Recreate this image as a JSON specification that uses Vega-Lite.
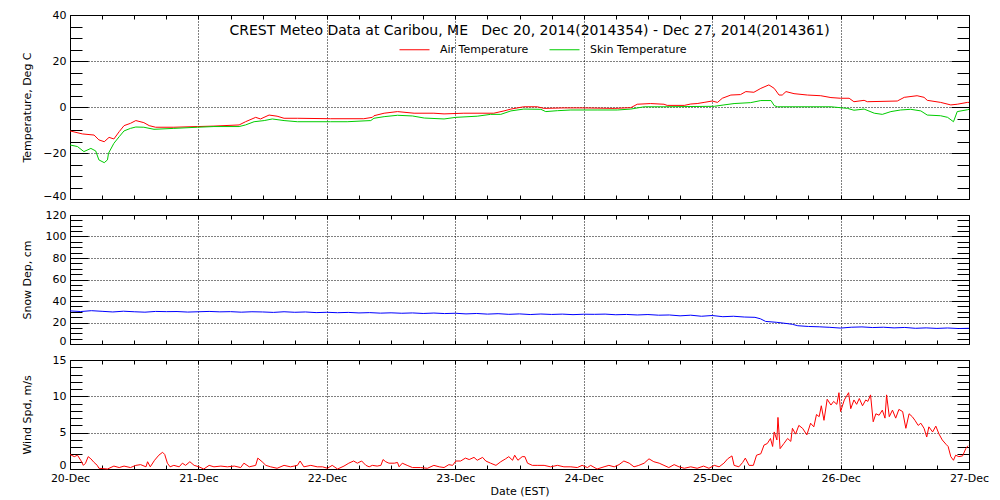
{
  "$schema": "https://vega.github.io/schema/vega-lite/v6.json",
  "background": "white",
  "padding": {"left": 20, "top": 8, "right": 5, "bottom": 0},
  "spacing": 16,
  "bounds": "flush",
  "config": {
    "view": {"stroke": "black", "strokeWidth": 1, "fill": "white"},
    "axis": {
      "domain": false,
      "labelFont": "DejaVu Sans", "labelFontSize": 11, "labelColor": "black",
      "titleFont": "DejaVu Sans", "titleFontSize": 11, "titleFontWeight": "normal", "titleColor": "black",
      "tickColor": "black", "tickWidth": 1,
      "gridColor": "black", "gridDash": [1, 2], "gridOpacity": 1, "gridWidth": 1,
      "labelFlush": false, "labelOverlap": false
    }
  },
  "datasets": {
    "temp": [
      {"hour":0.0,"series":"Air Temperature","temp":-10.4},{"hour":2.3,"series":"Air Temperature","temp":-11.7},{"hour":4.5,"series":"Air Temperature","temp":-12.2},{"hour":5.4,"series":"Air Temperature","temp":-14.3},{"hour":6.4,"series":"Air Temperature","temp":-15.1},{"hour":7.3,"series":"Air Temperature","temp":-13.2},{"hour":8.2,"series":"Air Temperature","temp":-13.9},{"hour":9.2,"series":"Air Temperature","temp":-10.7},{"hour":10.1,"series":"Air Temperature","temp":-8.1},{"hour":11.3,"series":"Air Temperature","temp":-7.1},{"hour":12.3,"series":"Air Temperature","temp":-5.9},{"hour":13.8,"series":"Air Temperature","temp":-6.8},{"hour":14.8,"series":"Air Temperature","temp":-8.1},{"hour":16.0,"series":"Air Temperature","temp":-8.8},{"hour":19.4,"series":"Air Temperature","temp":-8.8},{"hour":23.8,"series":"Air Temperature","temp":-8.5},{"hour":26.9,"series":"Air Temperature","temp":-8.3},{"hour":31.6,"series":"Air Temperature","temp":-7.8},{"hour":32.8,"series":"Air Temperature","temp":-6.4},{"hour":34.7,"series":"Air Temperature","temp":-4.5},{"hour":35.6,"series":"Air Temperature","temp":-5.2},{"hour":37.2,"series":"Air Temperature","temp":-3.5},{"hour":38.7,"series":"Air Temperature","temp":-4.0},{"hour":40.0,"series":"Air Temperature","temp":-4.9},{"hour":42.5,"series":"Air Temperature","temp":-4.9},{"hour":48.7,"series":"Air Temperature","temp":-5.1},{"hour":54.9,"series":"Air Temperature","temp":-5.1},{"hour":56.5,"series":"Air Temperature","temp":-4.5},{"hour":56.8,"series":"Air Temperature","temp":-3.8},{"hour":58.7,"series":"Air Temperature","temp":-2.7},{"hour":61.2,"series":"Air Temperature","temp":-2.0},{"hour":64.3,"series":"Air Temperature","temp":-2.7},{"hour":68.0,"series":"Air Temperature","temp":-2.7},{"hour":69.9,"series":"Air Temperature","temp":-3.0},{"hour":73.6,"series":"Air Temperature","temp":-2.7},{"hour":79.2,"series":"Air Temperature","temp":-2.7},{"hour":81.1,"series":"Air Temperature","temp":-1.7},{"hour":82.4,"series":"Air Temperature","temp":-0.9},{"hour":84.8,"series":"Air Temperature","temp":0.1},{"hour":87.3,"series":"Air Temperature","temp":0.1},{"hour":88.6,"series":"Air Temperature","temp":-0.6},{"hour":92.3,"series":"Air Temperature","temp":-0.4},{"hour":96.1,"series":"Air Temperature","temp":-0.4},{"hour":101.7,"series":"Air Temperature","temp":-0.6},{"hour":104.8,"series":"Air Temperature","temp":-0.3},{"hour":106.0,"series":"Air Temperature","temp":1.2},{"hour":108.5,"series":"Air Temperature","temp":1.5},{"hour":111.0,"series":"Air Temperature","temp":1.2},{"hour":111.6,"series":"Air Temperature","temp":0.7},{"hour":114.8,"series":"Air Temperature","temp":0.7},{"hour":116.0,"series":"Air Temperature","temp":1.3},{"hour":117.2,"series":"Air Temperature","temp":1.5},{"hour":118.5,"series":"Air Temperature","temp":2.0},{"hour":120.0,"series":"Air Temperature","temp":2.6},{"hour":121.0,"series":"Air Temperature","temp":2.0},{"hour":121.9,"series":"Air Temperature","temp":3.8},{"hour":123.5,"series":"Air Temperature","temp":5.2},{"hour":125.3,"series":"Air Temperature","temp":5.4},{"hour":126.3,"series":"Air Temperature","temp":6.7},{"hour":127.8,"series":"Air Temperature","temp":6.4},{"hour":129.1,"series":"Air Temperature","temp":8.1},{"hour":130.6,"series":"Air Temperature","temp":9.6},{"hour":131.6,"series":"Air Temperature","temp":8.1},{"hour":132.5,"series":"Air Temperature","temp":5.2},{"hour":133.1,"series":"Air Temperature","temp":5.2},{"hour":133.8,"series":"Air Temperature","temp":6.7},{"hour":135.3,"series":"Air Temperature","temp":5.8},{"hour":137.8,"series":"Air Temperature","temp":5.2},{"hour":140.3,"series":"Air Temperature","temp":4.9},{"hour":142.2,"series":"Air Temperature","temp":4.1},{"hour":144.0,"series":"Air Temperature","temp":3.8},{"hour":145.6,"series":"Air Temperature","temp":3.8},{"hour":146.5,"series":"Air Temperature","temp":2.3},{"hour":148.4,"series":"Air Temperature","temp":2.9},{"hour":149.0,"series":"Air Temperature","temp":2.3},{"hour":154.6,"series":"Air Temperature","temp":2.6},{"hour":155.9,"series":"Air Temperature","temp":4.2},{"hour":158.3,"series":"Air Temperature","temp":4.9},{"hour":159.6,"series":"Air Temperature","temp":4.2},{"hour":160.2,"series":"Air Temperature","temp":2.9},{"hour":162.7,"series":"Air Temperature","temp":2.0},{"hour":164.6,"series":"Air Temperature","temp":0.9},{"hour":165.8,"series":"Air Temperature","temp":1.2},{"hour":167.7,"series":"Air Temperature","temp":2.0},{"hour":168.0,"series":"Air Temperature","temp":2.0},
      {"hour":0.0,"series":"Skin Temperature","temp":-16.5},{"hour":1.4,"series":"Skin Temperature","temp":-17.2},{"hour":2.6,"series":"Skin Temperature","temp":-19.4},{"hour":3.9,"series":"Skin Temperature","temp":-18.0},{"hour":4.8,"series":"Skin Temperature","temp":-19.1},{"hour":5.4,"series":"Skin Temperature","temp":-23.0},{"hour":6.4,"series":"Skin Temperature","temp":-24.2},{"hour":7.0,"series":"Skin Temperature","temp":-23.0},{"hour":7.2,"series":"Skin Temperature","temp":-20.1},{"hour":8.2,"series":"Skin Temperature","temp":-15.8},{"hour":9.2,"series":"Skin Temperature","temp":-12.9},{"hour":10.1,"series":"Skin Temperature","temp":-10.4},{"hour":11.3,"series":"Skin Temperature","temp":-9.3},{"hour":12.3,"series":"Skin Temperature","temp":-8.7},{"hour":13.8,"series":"Skin Temperature","temp":-8.8},{"hour":15.7,"series":"Skin Temperature","temp":-9.7},{"hour":19.4,"series":"Skin Temperature","temp":-9.3},{"hour":23.8,"series":"Skin Temperature","temp":-8.8},{"hour":26.9,"series":"Skin Temperature","temp":-8.5},{"hour":31.6,"series":"Skin Temperature","temp":-8.5},{"hour":32.8,"series":"Skin Temperature","temp":-7.8},{"hour":34.4,"series":"Skin Temperature","temp":-6.4},{"hour":36.3,"series":"Skin Temperature","temp":-5.9},{"hour":37.8,"series":"Skin Temperature","temp":-5.2},{"hour":40.0,"series":"Skin Temperature","temp":-5.9},{"hour":42.5,"series":"Skin Temperature","temp":-6.4},{"hour":48.7,"series":"Skin Temperature","temp":-6.4},{"hour":51.8,"series":"Skin Temperature","temp":-6.4},{"hour":56.2,"series":"Skin Temperature","temp":-5.9},{"hour":56.8,"series":"Skin Temperature","temp":-4.9},{"hour":58.7,"series":"Skin Temperature","temp":-4.2},{"hour":61.2,"series":"Skin Temperature","temp":-3.6},{"hour":64.0,"series":"Skin Temperature","temp":-3.9},{"hour":66.2,"series":"Skin Temperature","temp":-4.8},{"hour":69.9,"series":"Skin Temperature","temp":-5.2},{"hour":72.1,"series":"Skin Temperature","temp":-4.5},{"hour":76.1,"series":"Skin Temperature","temp":-4.0},{"hour":78.6,"series":"Skin Temperature","temp":-3.2},{"hour":80.5,"series":"Skin Temperature","temp":-3.2},{"hour":82.4,"series":"Skin Temperature","temp":-1.7},{"hour":84.8,"series":"Skin Temperature","temp":-0.9},{"hour":88.0,"series":"Skin Temperature","temp":-1.0},{"hour":88.9,"series":"Skin Temperature","temp":-2.0},{"hour":91.1,"series":"Skin Temperature","temp":-1.6},{"hour":93.6,"series":"Skin Temperature","temp":-1.3},{"hour":98.5,"series":"Skin Temperature","temp":-1.3},{"hour":102.3,"series":"Skin Temperature","temp":-1.3},{"hour":104.8,"series":"Skin Temperature","temp":-0.9},{"hour":107.3,"series":"Skin Temperature","temp":0.1},{"hour":111.0,"series":"Skin Temperature","temp":0.1},{"hour":120.4,"series":"Skin Temperature","temp":0.3},{"hour":122.2,"series":"Skin Temperature","temp":0.9},{"hour":124.1,"series":"Skin Temperature","temp":1.5},{"hour":127.2,"series":"Skin Temperature","temp":1.9},{"hour":129.1,"series":"Skin Temperature","temp":2.8},{"hour":131.0,"series":"Skin Temperature","temp":2.8},{"hour":131.6,"series":"Skin Temperature","temp":0.6},{"hour":132.2,"series":"Skin Temperature","temp":0.1},{"hour":142.2,"series":"Skin Temperature","temp":0.1},{"hour":145.3,"series":"Skin Temperature","temp":-0.6},{"hour":146.5,"series":"Skin Temperature","temp":-1.4},{"hour":148.4,"series":"Skin Temperature","temp":-0.9},{"hour":150.3,"series":"Skin Temperature","temp":-2.7},{"hour":151.8,"series":"Skin Temperature","temp":-3.2},{"hour":153.4,"series":"Skin Temperature","temp":-2.0},{"hour":155.2,"series":"Skin Temperature","temp":-1.3},{"hour":157.1,"series":"Skin Temperature","temp":-1.0},{"hour":159.0,"series":"Skin Temperature","temp":-1.7},{"hour":160.2,"series":"Skin Temperature","temp":-3.5},{"hour":162.7,"series":"Skin Temperature","temp":-3.8},{"hour":164.0,"series":"Skin Temperature","temp":-4.5},{"hour":165.1,"series":"Skin Temperature","temp":-6.4},{"hour":165.8,"series":"Skin Temperature","temp":-2.0},{"hour":167.7,"series":"Skin Temperature","temp":-1.2},{"hour":168.0,"series":"Skin Temperature","temp":-1.0}
    ],
    "snow": [
      {"hour":0,"depth":30.8},{"hour":2,"depth":30.2},{"hour":4,"depth":31.0},{"hour":6,"depth":30.4},{"hour":8,"depth":29.8},{"hour":10,"depth":30.5},{"hour":12,"depth":30.0},{"hour":14,"depth":29.6},{"hour":16,"depth":30.3},{"hour":18,"depth":30.1},{"hour":20,"depth":30.2},{"hour":22,"depth":29.7},{"hour":24,"depth":30.0},{"hour":26,"depth":30.3},{"hour":28,"depth":29.9},{"hour":30,"depth":30.1},{"hour":32,"depth":29.6},{"hour":34,"depth":30.0},{"hour":36,"depth":29.8},{"hour":38,"depth":29.4},{"hour":40,"depth":30.0},{"hour":42,"depth":29.5},{"hour":44,"depth":29.8},{"hour":46,"depth":29.2},{"hour":48,"depth":29.5},{"hour":50,"depth":29.1},{"hour":52,"depth":29.4},{"hour":54,"depth":28.9},{"hour":56,"depth":29.2},{"hour":58,"depth":28.7},{"hour":60,"depth":29.0},{"hour":62,"depth":28.6},{"hour":64,"depth":28.9},{"hour":66,"depth":28.4},{"hour":68,"depth":28.8},{"hour":70,"depth":28.3},{"hour":72,"depth":28.6},{"hour":74,"depth":28.0},{"hour":76,"depth":28.4},{"hour":78,"depth":27.8},{"hour":80,"depth":28.2},{"hour":82,"depth":27.6},{"hour":84,"depth":28.0},{"hour":86,"depth":27.4},{"hour":88,"depth":27.9},{"hour":90,"depth":27.5},{"hour":92,"depth":27.8},{"hour":94,"depth":27.3},{"hour":96,"depth":27.7},{"hour":98,"depth":27.6},{"hour":100,"depth":27.8},{"hour":102,"depth":27.2},{"hour":104,"depth":27.5},{"hour":106,"depth":27.0},{"hour":108,"depth":27.4},{"hour":110,"depth":26.8},{"hour":112,"depth":27.0},{"hour":114,"depth":26.2},{"hour":116,"depth":26.8},{"hour":118,"depth":25.8},{"hour":120,"depth":26.5},{"hour":122,"depth":25.4},{"hour":124,"depth":25.8},{"hour":126,"depth":25.1},{"hour":128,"depth":24.8},{"hour":129,"depth":23.5},{"hour":130,"depth":21.0},{"hour":131,"depth":20.6},{"hour":132,"depth":20.2},{"hour":134,"depth":19.0},{"hour":135,"depth":18.3},{"hour":136,"depth":17.0},{"hour":138,"depth":16.3},{"hour":140,"depth":16.0},{"hour":142,"depth":15.5},{"hour":144,"depth":14.8},{"hour":146,"depth":15.6},{"hour":148,"depth":15.9},{"hour":150,"depth":15.3},{"hour":152,"depth":15.6},{"hour":154,"depth":15.0},{"hour":156,"depth":15.4},{"hour":158,"depth":14.6},{"hour":160,"depth":15.0},{"hour":162,"depth":14.5},{"hour":164,"depth":14.9},{"hour":166,"depth":14.4},{"hour":168,"depth":14.6}
    ],
    "wind": [
      {"hour":0.0,"speed":2.0},{"hour":0.8,"speed":1.7},{"hour":1.4,"speed":1.9},{"hour":2.0,"speed":1.2},{"hour":2.5,"speed":0.5},{"hour":2.9,"speed":0.8},{"hour":3.4,"speed":1.7},{"hour":3.9,"speed":1.4},{"hour":4.5,"speed":0.9},{"hour":5.1,"speed":0.5},{"hour":5.4,"speed":0.1},{"hour":7.0,"speed":0.0},{"hour":8.2,"speed":0.4},{"hour":9.2,"speed":0.2},{"hour":10.1,"speed":0.4},{"hour":11.3,"speed":0.2},{"hour":12.3,"speed":0.5},{"hour":13.2,"speed":0.6},{"hour":14.2,"speed":0.3},{"hour":14.5,"speed":1.0},{"hour":15.0,"speed":0.3},{"hour":15.8,"speed":1.2},{"hour":16.6,"speed":1.9},{"hour":17.3,"speed":2.3},{"hour":17.7,"speed":2.0},{"hour":18.2,"speed":0.8},{"hour":18.7,"speed":0.3},{"hour":19.4,"speed":0.5},{"hour":20.4,"speed":0.3},{"hour":21.0,"speed":0.8},{"hour":21.6,"speed":0.5},{"hour":22.4,"speed":1.0},{"hour":23.2,"speed":0.5},{"hour":24.1,"speed":0.3},{"hour":25.0,"speed":0.0},{"hour":26.0,"speed":0.5},{"hour":26.9,"speed":0.3},{"hour":28.2,"speed":0.4},{"hour":29.4,"speed":0.3},{"hour":30.7,"speed":0.4},{"hour":31.9,"speed":0.2},{"hour":32.5,"speed":0.8},{"hour":33.5,"speed":0.3},{"hour":34.7,"speed":0.5},{"hour":35.1,"speed":1.5},{"hour":35.9,"speed":1.0},{"hour":36.6,"speed":0.5},{"hour":37.5,"speed":0.3},{"hour":38.7,"speed":0.1},{"hour":40.0,"speed":0.5},{"hour":41.2,"speed":0.3},{"hour":42.5,"speed":0.5},{"hour":43.0,"speed":1.1},{"hour":43.7,"speed":0.3},{"hour":45.0,"speed":0.5},{"hour":46.2,"speed":0.3},{"hour":47.2,"speed":0.3},{"hour":48.1,"speed":0.1},{"hour":49.0,"speed":0.5},{"hour":50.0,"speed":0.0},{"hour":51.2,"speed":0.4},{"hour":52.1,"speed":0.8},{"hour":53.0,"speed":1.1},{"hour":53.7,"speed":0.8},{"hour":54.5,"speed":1.1},{"hour":55.3,"speed":0.5},{"hour":55.9,"speed":0.3},{"hour":56.5,"speed":0.5},{"hour":57.4,"speed":0.4},{"hour":58.1,"speed":0.5},{"hour":58.5,"speed":1.3},{"hour":59.0,"speed":1.0},{"hour":59.6,"speed":0.8},{"hour":60.6,"speed":0.8},{"hour":61.2,"speed":0.9},{"hour":61.5,"speed":0.3},{"hour":62.1,"speed":0.8},{"hour":63.0,"speed":0.5},{"hour":64.0,"speed":0.2},{"hour":65.5,"speed":0.2},{"hour":66.8,"speed":0.1},{"hour":68.0,"speed":0.5},{"hour":69.0,"speed":0.3},{"hour":69.9,"speed":0.2},{"hour":70.8,"speed":0.6},{"hour":71.5,"speed":0.5},{"hour":72.1,"speed":1.1},{"hour":73.0,"speed":1.1},{"hour":73.9,"speed":1.5},{"hour":74.6,"speed":1.3},{"hour":75.5,"speed":1.6},{"hour":76.1,"speed":1.2},{"hour":77.1,"speed":1.6},{"hour":77.7,"speed":1.1},{"hour":78.6,"speed":0.8},{"hour":79.6,"speed":0.5},{"hour":80.5,"speed":1.0},{"hour":81.4,"speed":1.4},{"hour":82.0,"speed":1.7},{"hour":82.7,"speed":1.2},{"hour":83.1,"speed":1.9},{"hour":83.7,"speed":1.2},{"hour":84.5,"speed":1.7},{"hour":85.0,"speed":1.7},{"hour":85.5,"speed":0.8},{"hour":86.4,"speed":0.5},{"hour":87.3,"speed":0.5},{"hour":88.6,"speed":0.5},{"hour":89.8,"speed":0.3},{"hour":91.1,"speed":0.5},{"hour":92.3,"speed":0.3},{"hour":93.6,"speed":0.3},{"hour":94.8,"speed":0.2},{"hour":95.7,"speed":0.5},{"hour":96.7,"speed":0.2},{"hour":97.3,"speed":0.5},{"hour":98.5,"speed":0.0},{"hour":99.8,"speed":0.3},{"hour":100.7,"speed":0.5},{"hour":101.7,"speed":0.3},{"hour":102.6,"speed":0.6},{"hour":103.5,"speed":1.1},{"hour":104.5,"speed":0.8},{"hour":105.4,"speed":0.3},{"hour":106.3,"speed":0.5},{"hour":107.3,"speed":0.8},{"hour":108.2,"speed":1.4},{"hour":109.1,"speed":1.0},{"hour":110.1,"speed":0.8},{"hour":111.0,"speed":0.5},{"hour":111.9,"speed":0.2},{"hour":112.9,"speed":0.6},{"hour":113.8,"speed":0.3},{"hour":114.8,"speed":0.1},{"hour":116.0,"speed":0.3},{"hour":117.2,"speed":0.1},{"hour":118.4,"speed":0.4},{"hour":119.4,"speed":0.1},{"hour":120.4,"speed":0.5},{"hour":121.3,"speed":0.3},{"hour":122.2,"speed":0.8},{"hour":122.9,"speed":1.4},{"hour":123.7,"speed":1.8},{"hour":124.1,"speed":0.5},{"hour":125.0,"speed":0.3},{"hour":125.7,"speed":0.9},{"hour":126.2,"speed":1.5},{"hour":126.9,"speed":0.5},{"hour":127.7,"speed":0.5},{"hour":128.3,"speed":1.9},{"hour":129.1,"speed":2.1},{"hour":129.7,"speed":3.3},{"hour":130.3,"speed":3.5},{"hour":130.9,"speed":4.2},{"hour":131.3,"speed":3.1},{"hour":131.6,"speed":5.1},{"hour":132.1,"speed":4.0},{"hour":132.3,"speed":7.1},{"hour":132.7,"speed":2.8},{"hour":133.4,"speed":3.5},{"hour":134.1,"speed":4.2},{"hour":134.7,"speed":3.8},{"hour":135.0,"speed":5.6},{"hour":135.6,"speed":4.8},{"hour":136.2,"speed":6.0},{"hour":136.9,"speed":5.6},{"hour":137.7,"speed":4.7},{"hour":138.4,"speed":6.3},{"hour":139.0,"speed":5.8},{"hour":139.5,"speed":7.5},{"hour":140.0,"speed":7.2},{"hour":140.4,"speed":8.7},{"hour":140.9,"speed":6.7},{"hour":141.5,"speed":9.6},{"hour":142.2,"speed":8.8},{"hour":142.7,"speed":9.3},{"hour":143.3,"speed":8.9},{"hour":143.7,"speed":10.5},{"hour":144.0,"speed":7.9},{"hour":144.7,"speed":9.5},{"hour":145.5,"speed":10.5},{"hour":145.9,"speed":8.3},{"hour":146.5,"speed":9.5},{"hour":147.0,"speed":8.9},{"hour":147.5,"speed":9.7},{"hour":148.1,"speed":8.7},{"hour":148.7,"speed":9.5},{"hour":149.1,"speed":9.3},{"hour":149.6,"speed":10.2},{"hour":150.1,"speed":6.5},{"hour":150.6,"speed":7.6},{"hour":151.2,"speed":7.4},{"hour":151.8,"speed":8.1},{"hour":152.3,"speed":7.0},{"hour":152.6,"speed":10.2},{"hour":153.1,"speed":7.2},{"hour":153.7,"speed":8.1},{"hour":154.3,"speed":7.0},{"hour":154.9,"speed":8.2},{"hour":155.6,"speed":7.9},{"hour":156.2,"speed":5.6},{"hour":156.8,"speed":7.6},{"hour":157.4,"speed":7.2},{"hour":157.9,"speed":6.7},{"hour":158.5,"speed":6.0},{"hour":159.0,"speed":6.3},{"hour":159.6,"speed":5.6},{"hour":160.1,"speed":4.4},{"hour":160.5,"speed":5.8},{"hour":161.2,"speed":5.1},{"hour":161.8,"speed":5.9},{"hour":162.4,"speed":4.8},{"hour":163.0,"speed":4.0},{"hour":163.7,"speed":3.4},{"hour":164.1,"speed":3.1},{"hour":164.6,"speed":1.7},{"hour":165.1,"speed":1.2},{"hour":165.5,"speed":1.9},{"hour":166.1,"speed":1.7},{"hour":166.8,"speed":1.8},{"hour":167.4,"speed":2.8},{"hour":167.8,"speed":3.2}
    ]
  },
  "vconcat": [
    {
      "width": 899, "height": 184,
      "title": {"text": "CREST Meteo Data at Caribou, ME\u00a0\u00a0\u00a0Dec 20, 2014(2014354) - Dec 27, 2014(2014361)", "font": "DejaVu Sans", "fontSize": 14, "fontWeight": "normal", "color": "black", "anchor": "middle", "frame": "group", "offset": -20, "baseline": "alphabetic", "dx": 10, "dy": 20},
      "data": {"name": "temp"},
      "resolve": {"axis": {"x": "independent", "y": "independent"}},
      "layer": [
        {
          "mark": {"type": "line", "strokeWidth": 1},
          "encoding": {
            "x": {"field": "hour", "type": "quantitative", "scale": {"domain": [0, 168], "nice": false, "zero": false},
                  "axis": {"orient": "bottom", "values": [24, 48, 72, 96, 120, 144], "labels": false, "ticks": false, "grid": true, "title": null}},
            "y": {"field": "temp", "type": "quantitative", "scale": {"domain": [-40, 40], "nice": false, "zero": false},
                  "axis": {"orient": "left", "values": [-40, -20, 0, 20, 40], "ticks": false, "grid": true, "labelPadding": 4, "labelOffset": {"condition": {"test": "datum.value === -40", "value": -3}, "value": 0}, "title": "Temperature, Deg C", "titleX": -38, "titleBaseline": "bottom"}},
            "color": {"field": "series", "type": "nominal",
                      "scale": {"domain": ["Air Temperature", "Skin Temperature"], "range": ["#ff0000", "#00cc00"]},
                      "legend": {"orient": "none", "legendX": 329, "legendY": 19, "direction": "horizontal", "title": null, "symbolType": "stroke", "symbolSize": 900, "symbolStrokeWidth": 1, "labelFont": "DejaVu Sans", "labelFontSize": 11, "labelColor": "black", "labelOffset": 10, "columnPadding": 18}}
          }
        },
        {
          "mark": {"type": "point", "opacity": 0},
          "encoding": {
            "x": {"field": "hour", "type": "quantitative", "scale": {"domain": [0, 168], "nice": false, "zero": false},
                  "axis": {"orient": "bottom", "values": [0,6,12,18,24,30,36,42,48,54,60,66,72,78,84,90,96,102,108,114,120,126,132,138,144,150,156,162,168], "labels": false, "grid": false, "tickSize": -4, "title": null}},
            "y": {"field": "temp", "type": "quantitative", "scale": {"domain": [-40, 40], "nice": false, "zero": false},
                  "axis": {"orient": "left", "values": [-40,-35,-30,-25,-20,-15,-10,-5,0,5,10,15,20,25,30,35,40], "labels": false, "grid": false, "title": null,
                           "tickSize": {"condition": {"test": "datum.value % 20 === 0", "value": -18}, "value": -12}}}
          }
        },
        {
          "mark": {"type": "point", "opacity": 0},
          "encoding": {
            "x": {"field": "hour", "type": "quantitative", "scale": {"domain": [0, 168], "nice": false, "zero": false},
                  "axis": {"orient": "top", "values": [0,6,12,18,24,30,36,42,48,54,60,66,72,78,84,90,96,102,108,114,120,126,132,138,144,150,156,162,168], "labels": false, "grid": false, "tickSize": -4, "title": null}},
            "y": {"field": "temp", "type": "quantitative", "scale": {"domain": [-40, 40], "nice": false, "zero": false},
                  "axis": {"orient": "right", "values": [-40,-35,-30,-25,-20,-15,-10,-5,0,5,10,15,20,25,30,35,40], "labels": false, "grid": false, "title": null,
                           "tickSize": {"condition": {"test": "datum.value % 20 === 0", "value": -18}, "value": -12}}}
          }
        }
      ]
    },
    {
      "width": 899, "height": 129,
      "data": {"name": "snow"},
      "resolve": {"axis": {"x": "independent", "y": "independent"}},
      "layer": [
        {
          "mark": {"type": "line", "strokeWidth": 1, "color": "#0000ff"},
          "encoding": {
            "x": {"field": "hour", "type": "quantitative", "scale": {"domain": [0, 168], "nice": false, "zero": false},
                  "axis": {"orient": "bottom", "values": [24, 48, 72, 96, 120, 144], "labels": false, "ticks": false, "grid": true, "title": null}},
            "y": {"field": "depth", "type": "quantitative", "scale": {"domain": [0, 120], "nice": false, "zero": false},
                  "axis": {"orient": "left", "values": [0, 20, 40, 60, 80, 100, 120], "ticks": false, "grid": true, "labelPadding": 4, "labelOffset": {"condition": {"test": "datum.value === 0", "value": -3}, "value": 0}, "title": "Snow Dep, cm", "titleX": -38, "titleBaseline": "bottom"}}
          }
        },
        {
          "mark": {"type": "point", "opacity": 0},
          "encoding": {
            "x": {"field": "hour", "type": "quantitative", "scale": {"domain": [0, 168], "nice": false, "zero": false},
                  "axis": {"orient": "bottom", "values": [0,6,12,18,24,30,36,42,48,54,60,66,72,78,84,90,96,102,108,114,120,126,132,138,144,150,156,162,168], "labels": false, "grid": false, "tickSize": -4, "title": null}},
            "y": {"field": "depth", "type": "quantitative", "scale": {"domain": [0, 120], "nice": false, "zero": false},
                  "axis": {"orient": "left", "values": [0,5,10,15,20,25,30,35,40,45,50,55,60,65,70,75,80,85,90,95,100,105,110,115,120], "labels": false, "grid": false, "title": null,
                           "tickSize": {"condition": {"test": "datum.value % 20 === 0", "value": -18}, "value": -12}}}
          }
        },
        {
          "mark": {"type": "point", "opacity": 0},
          "encoding": {
            "x": {"field": "hour", "type": "quantitative", "scale": {"domain": [0, 168], "nice": false, "zero": false},
                  "axis": {"orient": "top", "values": [0,6,12,18,24,30,36,42,48,54,60,66,72,78,84,90,96,102,108,114,120,126,132,138,144,150,156,162,168], "labels": false, "grid": false, "tickSize": -4, "title": null}},
            "y": {"field": "depth", "type": "quantitative", "scale": {"domain": [0, 120], "nice": false, "zero": false},
                  "axis": {"orient": "right", "values": [0,5,10,15,20,25,30,35,40,45,50,55,60,65,70,75,80,85,90,95,100,105,110,115,120], "labels": false, "grid": false, "title": null,
                           "tickSize": {"condition": {"test": "datum.value % 20 === 0", "value": -18}, "value": -12}}}
          }
        }
      ]
    },
    {
      "width": 899, "height": 109,
      "data": {"name": "wind"},
      "resolve": {"axis": {"x": "independent", "y": "independent"}},
      "layer": [
        {
          "mark": {"type": "line", "strokeWidth": 1, "color": "#ff0000"},
          "encoding": {
            "x": {"field": "hour", "type": "quantitative", "scale": {"domain": [0, 168], "nice": false, "zero": false},
                  "axis": {"orient": "bottom", "values": [0, 24, 48, 72, 96, 120, 144, 168], "labelExpr": "(20 + round(datum.value / 24)) + '-Dec'", "labelPadding": 3, "ticks": false, "grid": true, "title": "Date (EST)", "titlePadding": 2}},
            "y": {"field": "speed", "type": "quantitative", "scale": {"domain": [0, 15], "nice": false, "zero": false},
                  "axis": {"orient": "left", "values": [0, 5, 10, 15], "ticks": false, "grid": true, "labelPadding": 4, "labelOffset": {"condition": {"test": "datum.value === 0", "value": -4}, "value": 0}, "title": "Wind Spd, m/s", "titleX": -38, "titleBaseline": "bottom"}}
          }
        },
        {
          "mark": {"type": "point", "opacity": 0},
          "encoding": {
            "x": {"field": "hour", "type": "quantitative", "scale": {"domain": [0, 168], "nice": false, "zero": false},
                  "axis": {"orient": "bottom", "values": [0,6,12,18,24,30,36,42,48,54,60,66,72,78,84,90,96,102,108,114,120,126,132,138,144,150,156,162,168], "labels": false, "grid": false, "tickSize": -4, "title": null}},
            "y": {"field": "speed", "type": "quantitative", "scale": {"domain": [0, 15], "nice": false, "zero": false},
                  "axis": {"orient": "left", "values": [0,1,2,3,4,5,6,7,8,9,10,11,12,13,14,15], "labels": false, "grid": false, "title": null,
                           "tickSize": {"condition": {"test": "datum.value % 5 === 0", "value": -18}, "value": -12}}}
          }
        },
        {
          "mark": {"type": "point", "opacity": 0},
          "encoding": {
            "x": {"field": "hour", "type": "quantitative", "scale": {"domain": [0, 168], "nice": false, "zero": false},
                  "axis": {"orient": "top", "values": [0,6,12,18,24,30,36,42,48,54,60,66,72,78,84,90,96,102,108,114,120,126,132,138,144,150,156,162,168], "labels": false, "grid": false, "tickSize": -4, "title": null}},
            "y": {"field": "speed", "type": "quantitative", "scale": {"domain": [0, 15], "nice": false, "zero": false},
                  "axis": {"orient": "right", "values": [0,1,2,3,4,5,6,7,8,9,10,11,12,13,14,15], "labels": false, "grid": false, "title": null,
                           "tickSize": {"condition": {"test": "datum.value % 5 === 0", "value": -18}, "value": -12}}}
          }
        }
      ]
    }
  ]
}
